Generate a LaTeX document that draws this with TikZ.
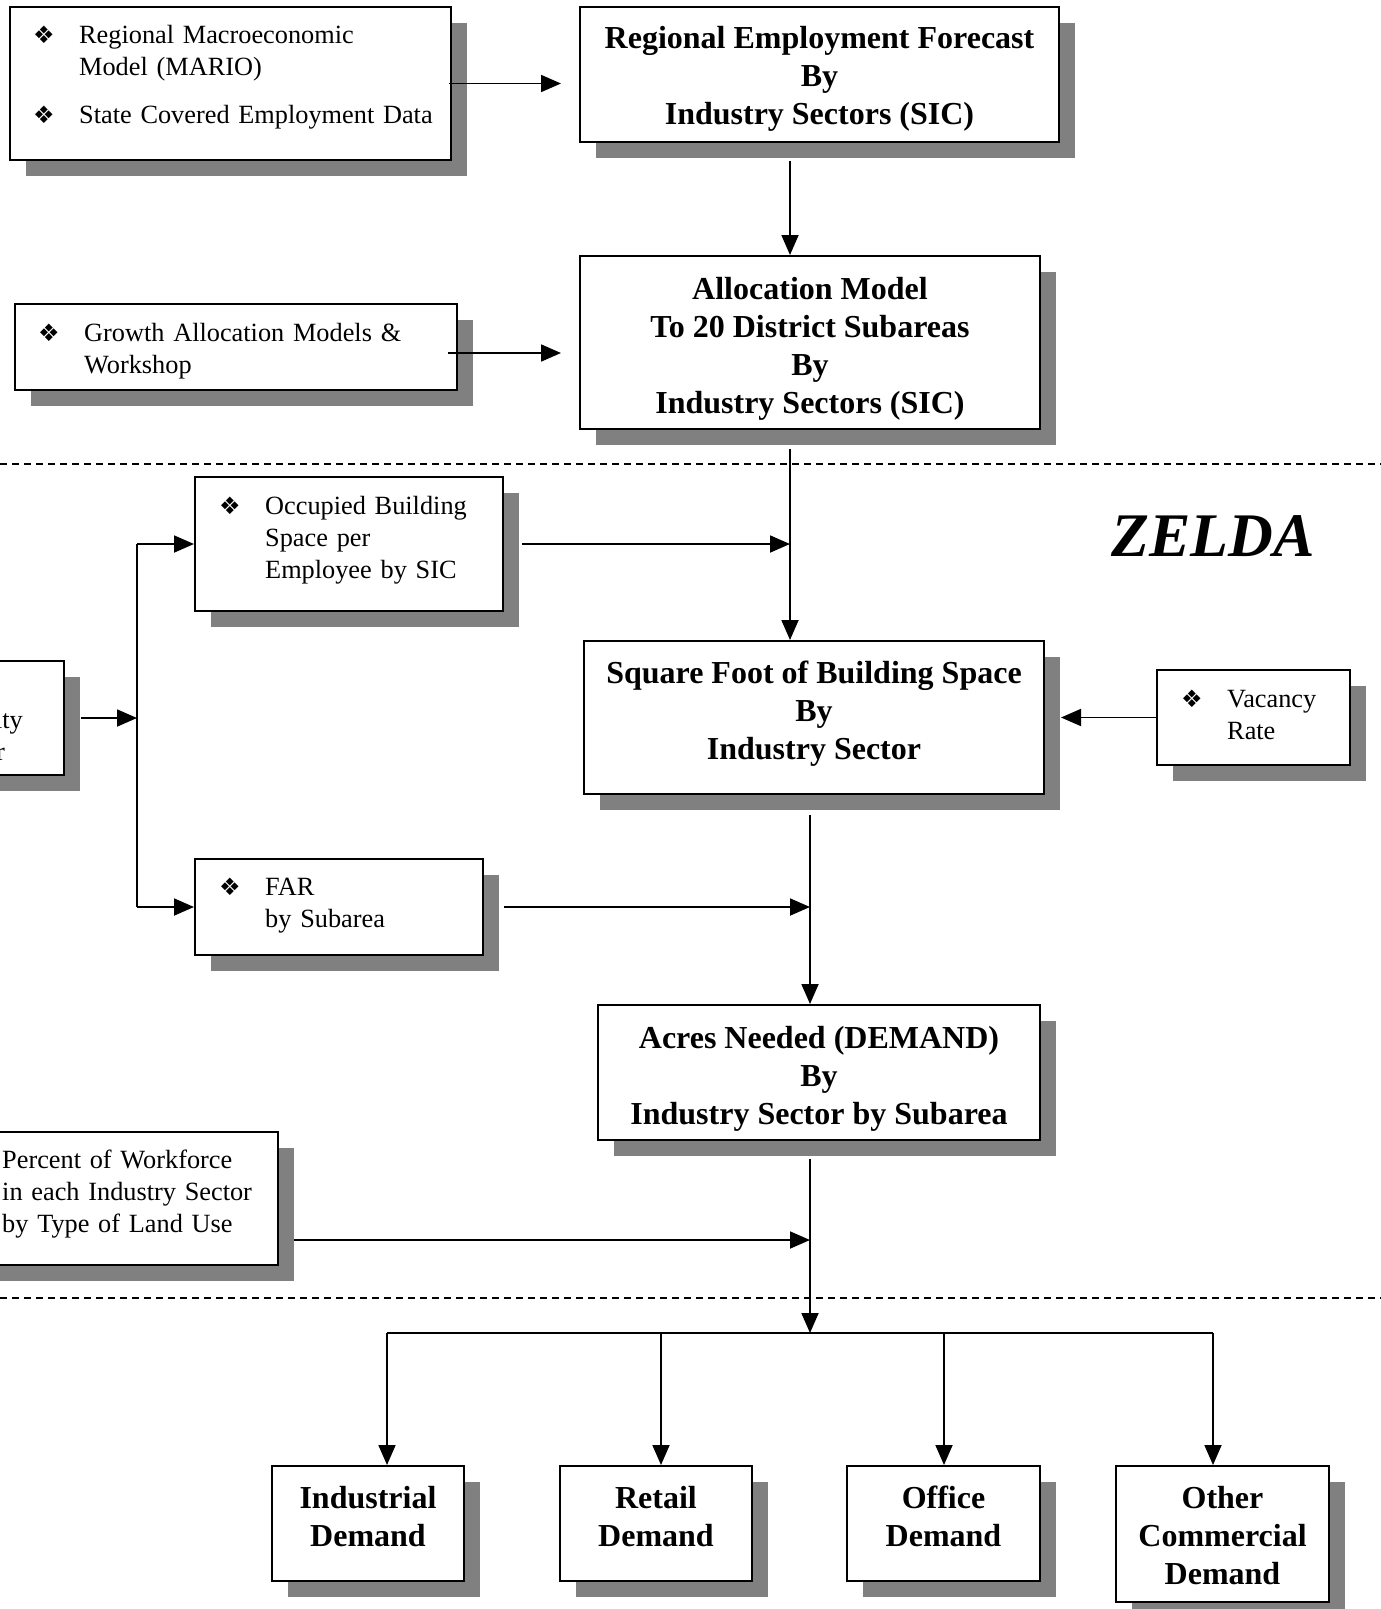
\documentclass[tikz,border=0pt]{standalone}
\usepackage{fontspec}
\setmainfont{Liberation Serif}
\newfontfamily\symfont{DejaVu Sans}
\usetikzlibrary{arrows.meta,shadows,calc}
\newcommand{\bul}{\makebox[46pt][l]{\symfont\fontsize{24}{24}\selectfont ❖}}

\begin{document}
\begin{tikzpicture}[x=1pt,y=-1pt,
    box/.style={draw, line width=2pt, fill=white, inner sep=0pt,
      drop shadow={shadow xshift=16pt, shadow yshift=-16pt, fill=black!50, opacity=1}},
    bigtext/.style={inner sep=0pt, align=center, font=\bfseries\fontsize{32}{38}\selectfont},
    boxtext/.style={anchor=base west, inner sep=0pt, align=left, text width=#1,
      font=\fontsize{26.3}{32}\selectfont},
    boxtext/.default=420pt,
    arr/.style={line width=1.8pt, -{Triangle[length=20pt,width=17pt]}},
    link/.style={line width=1.8pt},
    divider/.style={line width=2pt, dash pattern=on 7pt off 5pt}]
  \useasboundingbox (0,0) rectangle (1381,1609);
  \clip (0,0) rectangle (1381,1609);

  % regional level
  \node[box, minimum width=441pt, minimum height=153pt] (mario) at (230.5,83.5) {};
  \node[boxtext] (mariotext) at (33,43) {\bul Regional Macroeconomic\\ \hspace*{46pt}Model (MARIO)\\[16pt] \bul State Covered Employment Data};
  \node[box, minimum width=479pt, minimum height=135pt] (forecast) at (819.5,74.5) {};
  \node[bigtext, yshift=-4pt] (forecasttext) at (forecast) {Regional Employment Forecast\\By\\Industry Sectors (SIC)};

  \node[box, minimum width=442pt, minimum height=86pt] (growth) at (236,347) {};
  \node[boxtext] (growthtext) at (38,341) {\bul Growth Allocation Models \&\\ \hspace*{46pt}Workshop};
  \node[box, minimum width=460pt, minimum height=173pt] (alloc) at (810,342.5) {};
  \node[bigtext, yshift=-6pt] (alloctext) at (alloc) {Allocation Model\\To 20 District Subareas\\By\\Industry Sectors (SIC)};

  \draw[divider] (0,464) -- (1381,464);

  % ZELDA
  \node[font=\bfseries\itshape\fontsize{62}{62}\selectfont] (zelda) at (1213,536) {ZELDA};

  \node[box, minimum width=308pt, minimum height=134pt] (occupied) at (349,544) {};
  \node[boxtext] (occupiedtext) at (219,514) {\bul Occupied Building\\ \hspace*{46pt}Space per\\ \hspace*{46pt}Employee by SIC};

  \node[box, minimum width=264pt, minimum height=114pt] (capacity) at (-68,718) {};
  \node[anchor=base east, inner sep=0pt, font=\fontsize{26.3}{32}\selectfont] (capacitytext) at (23,728) {Capacity};
  \node[anchor=base east, inner sep=0pt, font=\fontsize{26.3}{32}\selectfont] (capacitytextb) at (5,760) {Factor};

  \node[box, minimum width=460pt, minimum height=153pt] (sqft) at (814,717.5) {};
  \node[bigtext, yshift=4pt] (sqfttext) at (sqft) {Square Foot of Building Space\\By\\Industry Sector};

  \node[box, minimum width=193pt, minimum height=95pt] (vacancy) at (1253.5,717.5) {};
  \node[boxtext] (vacancytext) at (1181,707) {\bul Vacancy\\ \hspace*{46pt}Rate};

  \node[box, minimum width=288pt, minimum height=96pt] (far) at (339,907) {};
  \node[boxtext] (fartext) at (219,895) {\bul FAR\\ \hspace*{46pt}by Subarea};

  \node[box, minimum width=442pt, minimum height=135pt] (acres) at (819,1072.5) {};
  \node[bigtext, yshift=-6pt] (acrestext) at (acres) {Acres Needed (DEMAND)\\By\\Industry Sector by Subarea};

  \node[box, minimum width=318pt, minimum height=133pt] (percent) at (119,1198.5) {};
  \node[boxtext] (percenttext) at (2,1168) {Percent of Workforce\\in each Industry Sector\\by Type of Land Use};

  \draw[divider] (0,1298) -- (1381,1298);

  % demand by land use
  \node[box, minimum width=192pt, minimum height=115pt] (industrial) at (368,1523.5) {};
  \node[bigtext, yshift=7pt] (industrialtext) at (industrial) {Industrial\\Demand};
  \node[box, minimum width=192pt, minimum height=115pt] (retail) at (656,1523.5) {};
  \node[bigtext, yshift=7pt] (retailtext) at (retail) {Retail\\Demand};
  \node[box, minimum width=193pt, minimum height=115pt] (office) at (943.5,1523.5) {};
  \node[bigtext, yshift=7pt] (officetext) at (office) {Office\\Demand};
  \node[box, minimum width=213pt, minimum height=136pt] (other) at (1222.5,1534) {};
  \node[bigtext, yshift=-2pt] (othertext) at (other) {Other\\Commercial\\Demand};

  % connectors
  \coordinate (spineA) at (790,0);
  \coordinate (spineB) at (810,0);
  \coordinate (bus) at (137,718);
  \coordinate (pctout) at (294,1240);
  \coordinate (split) at (810,1333);
  \coordinate (s1) at (387,1333);
  \coordinate (s2) at (661,1333);
  \coordinate (s3) at (944,1333);
  \coordinate (s4) at (1213,1333);

  \draw[arr] ([xshift=-3pt]mario.east) -- ($(mario.east -| forecast.west)+(-18,0)$);
  \draw[arr] ($(forecast.south -| spineA)+(0,18)$) -- (alloc.north -| spineA);
  \draw[arr] ($(growth.east)+(-10,6)$) -- ($(growth.east -| alloc.west)+(-18,6)$);
  \draw[arr] ($(alloc.south -| spineA)+(0,19)$) -- (sqft.north -| spineA);
  \draw[arr] ($(occupied.east)+(18,0)$) -- (occupied.east -| spineA);
  \draw[arr] ($(capacity.east)+(16,0)$) -- (bus);
  \draw[link] (bus |- occupied.west) -- (bus |- far.west);
  \draw[arr] (bus |- occupied.west) -- (occupied.west);
  \draw[arr] (bus |- far.west) -- (far.west);
  \draw[arr] (vacancy.west) -- ($(sqft.east)+(16,0)$);
  \draw[arr] ($(sqft.south -| spineB)+(0,20)$) -- (acres.north -| spineB);
  \draw[arr] ($(far.east)+(20,0)$) -- (far.east -| spineB);
  \draw[arr] (pctout) -- (pctout -| spineB);
  \draw[arr] ($(acres.south -| spineB)+(0,18)$) -- (split);
  \draw[link] (s1) -- (s4);
  \foreach \s/\b in {s1/industrial, s2/retail, s3/office, s4/other}
    \draw[arr] (\s) -- (\s |- \b.north);
\end{tikzpicture}
\end{document}
